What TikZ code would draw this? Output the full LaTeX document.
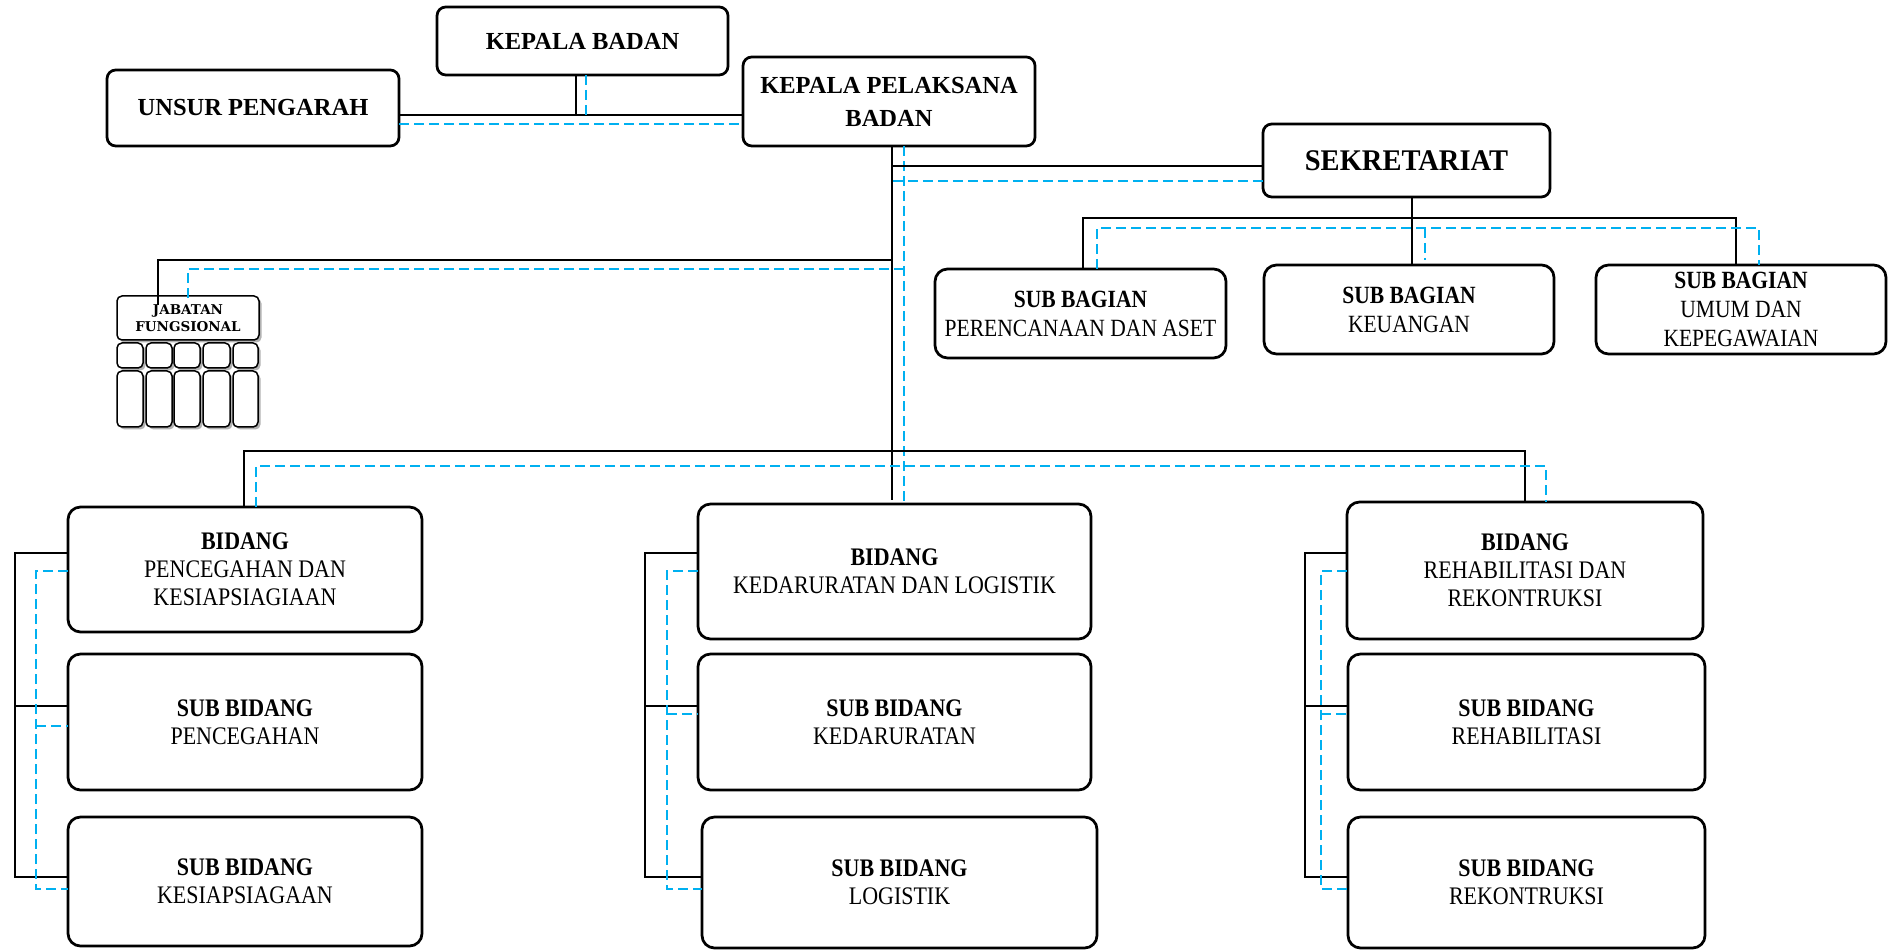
\documentclass[tikz,border=0pt]{standalone}
\usepackage{fontspec}
\setmainfont{Liberation Serif}
\newfontfamily\cf{Liberation Serif}[FakeStretch=0.87]
\newfontfamily\sekfont{Liberation Serif}[FakeStretch=0.95]
\newfontfamily\jff{DejaVu Serif}
\usetikzlibrary{shadows}
\definecolor{lnblue}{RGB}{0,176,240}
\newcommand\bx[7]{%
  \pgfmathsetmacro\bw{0.4*(#4-#2)}%
  \pgfmathsetmacro\bh{0.4*(#5-#3)}%
  \node[#6, minimum width=\bw pt, minimum height=\bh pt] (#1) at ({(#2+#4)/2},{(#3+#5)/2}) {#7};}
\newcommand\colconn[4]{%
  \coordinate (L#1t) at (#2,553); \coordinate (L#1m) at (#2,706); \coordinate (L#1b) at (#2,877);
  \draw[ln] (bd#1.west |- L#1t) -- (L#1t) -- (L#1b) -- (sbb#1.west |- L#1b);
  \draw[ln] (L#1m) -- (sba#1.west |- L#1m);
  \coordinate (B#1t) at (#3,571); \coordinate (B#1m) at (#3,#4); \coordinate (B#1b) at (#3,889);
  \draw[bl] (bd#1.west |- B#1t) -- (B#1t) -- (B#1b) -- (sbb#1.west |- B#1b);
  \draw[bl] (B#1m) -- (sba#1.west |- B#1m);}
\begin{document}
\begin{tikzpicture}[x=0.4pt,y=-0.4pt,
  box/.style={draw=black, line width=1.1pt, rounded corners=5pt, fill=white, inner sep=0pt, outer sep=0pt, align=center},
  topbox/.style={box, rounded corners=3.5pt, font=\fontsize{9.8}{13.2}\selectfont\bfseries},
  sekbox/.style={box, rounded corners=3.5pt, font=\sekfont\fontsize{12}{14}\selectfont\bfseries},
  lowbox/.style={box, font=\cf\fontsize{10.1}{11.3}\selectfont},
  bagbox/.style={box, font=\cf\fontsize{9.9}{11.6}\selectfont},
  jfbox/.style={draw=black, line width=0.6pt, rounded corners=2pt, fill=white, inner sep=0pt, outer sep=0pt, align=center,
    drop shadow={shadow xshift=1pt, shadow yshift=-1pt, fill=black!30, opacity=1}},
  jftext/.style={jfbox, font=\jff\bfseries\fontsize{5.4}{6.6}\selectfont},
  ln/.style={line width=0.8pt, black},
  bl/.style={line width=0.8pt, lnblue, dash pattern=on 4pt off 2pt},
]
\useasboundingbox (0,0) rectangle (1891,951);

% top level
\bx{kb}{437}{7}{728}{75}{topbox}{KEPALA BADAN}
\bx{up}{107}{70}{399}{146}{topbox}{UNSUR PENGARAH}
\bx{kp}{743}{57}{1035}{146}{topbox}{KEPALA PELAKSANA\\BADAN}
\bx{sek}{1263}{124}{1550}{197}{sekbox}{SEKRETARIAT}

% sub bagian
\bx{bag1}{935}{269}{1226}{358}{bagbox}{{\bfseries SUB BAGIAN}\\PERENCANAAN DAN ASET}
\bx{bag2}{1264}{265}{1554}{354}{bagbox}{{\bfseries SUB BAGIAN}\\KEUANGAN}
\bx{bag3}{1596}{265}{1886}{354}{bagbox}{{\bfseries SUB BAGIAN}\\UMUM DAN\\KEPEGAWAIAN}

% jabatan fungsional
\bx{jf}{117}{296}{259}{340}{jftext}{JABATAN\\FUNGSIONAL}
\foreach \n/\xa/\xb in {1/117/143, 2/146/172, 3/174/200, 4/203/230, 5/233/258}{
  \bx{jfa\n}{\xa}{343}{\xb}{368}{jfbox}{}
  \bx{jfb\n}{\xa}{371}{\xb}{427}{jfbox}{}
}

% bidang columns
\bx{bd1}{68}{507}{422}{632}{lowbox}{{\bfseries BIDANG}\\PENCEGAHAN DAN\\KESIAPSIAGIAAN}
\bx{sba1}{68}{654}{422}{790}{lowbox}{{\bfseries SUB BIDANG}\\PENCEGAHAN}
\bx{sbb1}{68}{817}{422}{946}{lowbox}{{\bfseries SUB BIDANG}\\KESIAPSIAGAAN}

\bx{bd2}{698}{504}{1091}{639}{lowbox}{{\bfseries BIDANG}\\KEDARURATAN DAN LOGISTIK}
\bx{sba2}{698}{654}{1091}{790}{lowbox}{{\bfseries SUB BIDANG}\\KEDARURATAN}
\bx{sbb2}{702}{817}{1097}{948}{lowbox}{{\bfseries SUB BIDANG}\\LOGISTIK}

\bx{bd3}{1347}{502}{1703}{639}{lowbox}{{\bfseries BIDANG}\\REHABILITASI DAN\\REKONTRUKSI}
\bx{sba3}{1348}{654}{1705}{790}{lowbox}{{\bfseries SUB BIDANG}\\REHABILITASI}
\bx{sbb3}{1348}{817}{1705}{948}{lowbox}{{\bfseries SUB BIDANG}\\REKONTRUKSI}

% ---- connectors ----
% top
\coordinate (jt) at (576,115);
\draw[ln] (kb.south -| jt) -- (jt);
\draw[ln] (up.east |- jt) -- (kp.west |- jt);
\coordinate (bt) at (586,115);
\draw[bl] (kb.south -| bt) -- (bt);
\coordinate (bt2) at (586,124);
\draw[bl] (up.east |- bt2) -- (kp.west |- bt2);

% trunk
\coordinate (tr) at (892,500);
\draw[ln] (kp.south -| tr) -- (tr);
\coordinate (tb) at (904,300);
\draw[bl] (kp.south -| tb) -- (bd2.north -| tb);

% sekretariat
\coordinate (s1) at (892,166);
\draw[ln] (s1) -- (sek.west |- s1);
\coordinate (s2) at (893,181);
\draw[bl] (s2) -- (sek.west |- s2);

% sub bagian
\coordinate (h1) at (1083,218); \coordinate (h2) at (1736,218); \coordinate (hm) at (1412,218);
\draw[ln] (sek.south -| hm) -- (hm);
\draw[ln] (bag1.north -| h1) -- (h1) -- (h2) -- (bag3.north -| h2);
\draw[ln] (hm) -- (bag2.north -| hm);
\coordinate (g1) at (1097,228); \coordinate (g2) at (1759,228);
\coordinate (gm) at (1425,228); \coordinate (gme) at (1425,260);
\draw[bl] (bag1.north -| g1) -- (g1) -- (g2) -- (bag3.north -| g2);
\draw[bl] (gm) -- (gme);

% jabatan fungsional
\coordinate (ja) at (158,260); \coordinate (jae) at (158,305);
\draw[ln] (tr |- ja) -- (ja) -- (jae);
\coordinate (jb) at (188,269); \coordinate (jbe) at (188,301);
\draw[bl] (tb |- jb) -- (jb) -- (jbe);

% bidang
\coordinate (ba) at (244,451); \coordinate (bb) at (1525,451);
\draw[ln] (bd1.north -| ba) -- (ba) -- (bb) -- (bd3.north -| bb);
\coordinate (ca) at (256,466); \coordinate (cb) at (1546,466);
\draw[bl] (bd1.north -| ca) -- (ca) -- (cb) -- (bd3.north -| cb);

% column connectors
\colconn{1}{15}{36}{726}
\colconn{2}{645}{667}{714}
\colconn{3}{1305}{1321}{714}
\end{tikzpicture}
\end{document}
